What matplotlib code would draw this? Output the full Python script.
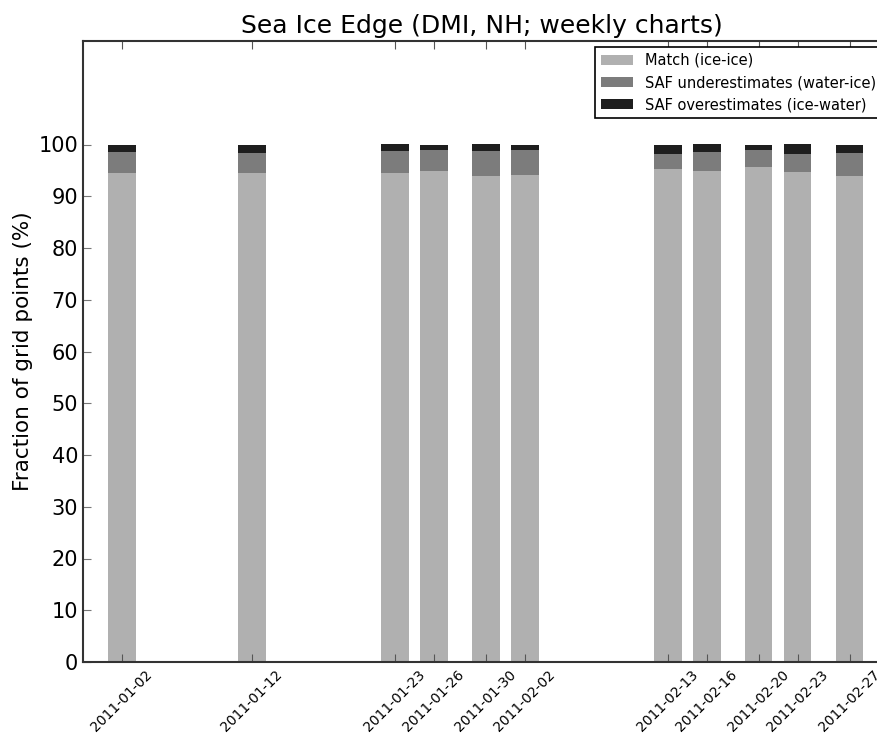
import datetime as dt
import matplotlib
matplotlib.use('Agg')
import matplotlib.pyplot as plt
import matplotlib.dates as mdates

# dates of the weekly charts
dates = ['2011-01-02', '2011-01-12', '2011-01-23', '2011-01-26', '2011-01-30',
         '2011-02-02', '2011-02-13', '2011-02-16', '2011-02-20', '2011-02-23',
         '2011-02-27']

# fraction of grid points (%)
match = [94.5, 94.5, 94.4, 94.8, 93.9, 94.1, 95.2, 94.9, 95.7, 94.7, 94.0]
under = [4.0, 3.9, 4.3, 4.1, 4.8, 4.8, 3.0, 3.7, 3.2, 3.4, 4.4]
over = [1.5, 1.6, 1.3, 1.1, 1.3, 1.1, 1.8, 1.4, 1.1, 1.9, 1.6]

labels = ['Match (ice-ice)', 'SAF underestimates (water-ice)',
          'SAF overestimates (ice-water)']
colors = ['#b0b0b0', '#7c7c7c', '#1e1e1e']

x = [dt.datetime.strptime(d, '%Y-%m-%d') for d in dates]
bottom2 = [m + u for m, u in zip(match, under)]

fig = plt.figure(figsize=(8.78, 7.36), dpi=100)
ax = fig.add_axes([83 / 878, 74 / 736, 798 / 878, 621 / 736])

w = 2.13
ax.bar(x, match, width=w, color=colors[0], label=labels[0], linewidth=0)
ax.bar(x, under, width=w, bottom=match, color=colors[1], label=labels[1], linewidth=0)
ax.bar(x, over, width=w, bottom=bottom2, color=colors[2], label=labels[2], linewidth=0)

ax.set_xlim(dt.datetime(2010, 12, 30), dt.datetime(2011, 3, 1, 10))
ax.set_ylim(0, 120)
ax.set_yticks(range(0, 101, 10))
ax.set_xticks(x)
ax.xaxis.set_major_formatter(mdates.DateFormatter('%Y-%m-%d'))
for lab in ax.get_xticklabels():
    lab.set_rotation(45)
    lab.set_fontsize(10)

ax.tick_params(axis='y', labelsize=15, direction='in', length=6, color='#777777')
ax.tick_params(axis='x', direction='in', length=6, color='#555555', top=True, pad=4)
for s in ax.spines.values():
    s.set_color('#333333')
    s.set_linewidth(1.5)
ax.spines['right'].set_visible(False)

ax.set_ylabel('Fraction of grid points (%)', fontsize=15.5)
ax.set_title('Sea Ice Edge (DMI, NH; weekly charts)', fontsize=18)

leg = ax.legend(loc='upper right', fontsize=10.5, fancybox=False, framealpha=1,
                handlelength=2.2, borderaxespad=0,
                bbox_to_anchor=(882 / 878, 1 - 47 / 736),
                bbox_transform=fig.transFigure)
leg.get_frame().set_edgecolor('black')
leg.get_frame().set_linewidth(1.2)

fig.savefig('out.png', dpi=100)
